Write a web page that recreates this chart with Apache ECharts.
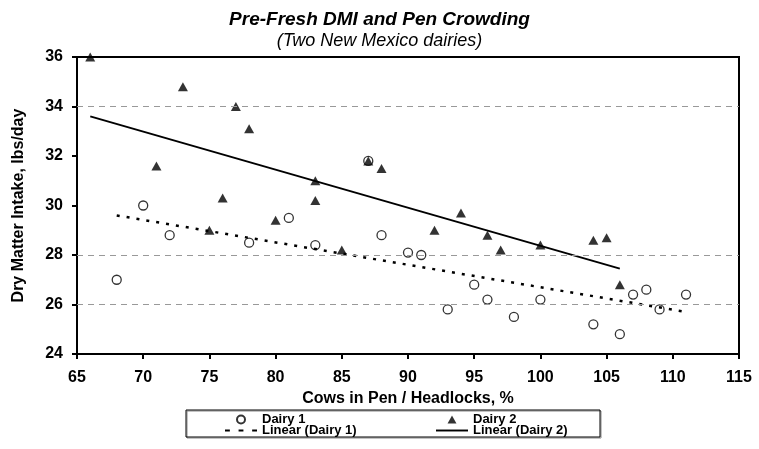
<!DOCTYPE html>
<html><head><meta charset="utf-8">
<script src="https://cdn.jsdelivr.net/npm/echarts@6/dist/echarts.min.js"></script>
<style>html,body{margin:0;padding:0;background:#fff}#c{width:759px;height:449px}</style>
</head><body><div id="c"></div>
<script>
// Dairy 1 (open circles): [cows in pen %, DMI]
const dairy1X = [68, 70, 72, 78, 81, 83, 87, 88, 90, 91, 93, 95, 96, 98, 100, 104, 106, 107, 108, 109, 111];
const dairy1Y = [27.0, 30.0, 28.8, 28.5, 29.5, 28.4, 31.8, 28.8, 28.1, 28.0, 25.8, 26.8, 26.2, 25.5, 26.2, 25.2, 24.8, 26.4, 26.6, 25.8, 26.4];
// Dairy 2 (filled triangles)
const dairy2X = [66, 71, 73, 75, 76, 77, 78, 80, 83, 83, 85, 87, 88, 92, 94, 96, 97, 100, 104, 105, 106];
const dairy2Y = [36.0, 31.6, 34.8, 29.0, 30.3, 34.0, 33.1, 29.4, 31.0, 30.2, 28.2, 31.8, 31.5, 29.0, 29.7, 28.8, 28.2, 28.4, 28.6, 28.7, 26.8];
// Trendline endpoints
const trend1X = [68, 111];
const trend1Y = [29.6, 25.7];
const trend2X = [66, 106];
const trend2Y = [33.6, 27.45];
const gridLevels = [26, 28, 34];

const zip = (a, b) => a.map((v, i) => [v, b[i]]);
const FONT = 'Liberation Sans, Arial, sans-serif';
const legendText = {fontFamily: FONT, fontSize: 13, fontWeight: 'bold', color: '#000', lineHeight: 10};
const ICON_DASH = 'path://M0,0h5v2h-5zM14,0h5v2h-5zM28,0h5v2h-5z';
const ICON_SOLID = 'path://M0,0h33v2h-33z';
const ICON_TRI = 'path://M5,0L10,9L0,9Z';
const nameStyle = {fontFamily: FONT, fontSize: 16, fontWeight: 'bold', color: '#000'};

const chart = echarts.init(document.getElementById('c'), null, {renderer: 'canvas'});
chart.setOption({
  animation: false,
  backgroundColor: '#fff',
  title: [
    {text: 'Pre-Fresh DMI and Pen Crowding', left: 'center', top: 5,
     textStyle: {fontFamily: FONT, fontSize: 19, fontWeight: 'bold', fontStyle: 'italic', color: '#000'}},
    {text: '(Two New Mexico dairies)', left: 'center', top: 27,
     textStyle: {fontFamily: FONT, fontSize: 18, fontWeight: 'normal', fontStyle: 'italic', color: '#000'}}
  ],
  grid: {left: 77, right: 20, top: 57, bottom: 95, show: true, borderColor: '#000', borderWidth: 2, containLabel: false},
  xAxis: {
    type: 'value', min: 65, max: 115, interval: 5,
    name: 'Cows in Pen / Headlocks, %', nameLocation: 'middle', nameGap: 35,
    nameTextStyle: nameStyle,
    axisLine: {show: true, lineStyle: {color: '#000', width: 2}},
    axisTick: {show: true, length: 5, lineStyle: {color: '#000', width: 2}},
    axisLabel: {fontFamily: FONT, fontSize: 16, fontWeight: 'bold', color: '#000', margin: 16},
    splitLine: {show: false}
  },
  yAxis: {
    type: 'value', min: 24, max: 36, interval: 2,
    name: 'Dry Matter Intake, lbs/day', nameLocation: 'middle', nameGap: 50,
    nameTextStyle: nameStyle,
    axisLine: {show: true, lineStyle: {color: '#000', width: 2}},
    axisTick: {show: true, length: 5, lineStyle: {color: '#000', width: 2}},
    axisLabel: {fontFamily: FONT, fontSize: 16, fontWeight: 'bold', color: '#000', margin: 14},
    splitLine: {show: false}
  },
  legend: [
    {orient: 'vertical', left: 225, top: 413, padding: 0, itemGap: -2, itemWidth: 32, itemHeight: 8,
     textStyle: legendText,
     data: [{name: 'Dairy 1', icon: 'circle'}, {name: 'Linear (Dairy 1)', icon: ICON_DASH}]},
    {orient: 'vertical', left: 436, top: 413, padding: 0, itemGap: -2, itemWidth: 32, itemHeight: 8,
     textStyle: legendText,
     data: [{name: 'Dairy 2', icon: ICON_TRI}, {name: 'Linear (Dairy 2)', icon: ICON_SOLID}]}
  ],
  graphic: [
    {type: 'rect', shape: {x: 186, y: 410, width: 414, height: 27},
     style: {fill: 'none', stroke: '#000', lineWidth: 1, shadowBlur: 0, shadowOffsetX: 1, shadowOffsetY: 1, shadowColor: '#888'}, z: -1}
  ],
  series: [
    {name: 'Gridlines', type: 'line', data: [], silent: true,
     markLine: {silent: true, symbol: 'none', label: {show: false},
       lineStyle: {color: '#999', type: [6, 5], width: 1},
       data: gridLevels.map(v => ({yAxis: v}))}},
    {name: 'Linear (Dairy 1)', type: 'line', data: zip(trend1X, trend1Y), symbol: 'none', z: 2,
     lineStyle: {color: '#000', width: 2.5, type: [3, 7]}, itemStyle: {color: '#000'}},
    {name: 'Linear (Dairy 2)', type: 'line', data: zip(trend2X, trend2Y), symbol: 'none', z: 2,
     lineStyle: {color: '#000', width: 2, type: 'solid'}, itemStyle: {color: '#000'}},
    {name: 'Dairy 2', type: 'scatter', data: zip(dairy2X, dairy2Y), symbol: 'triangle', symbolSize: [10, 9], z: 3,
     itemStyle: {color: '#000', borderWidth: 0}},
    {name: 'Dairy 1', type: 'scatter', data: zip(dairy1X, dairy1Y), symbol: 'circle', symbolSize: 9, z: 4,
     itemStyle: {color: 'rgba(255,255,255,0)', borderColor: '#000', borderWidth: 1.3}}
  ]
});
</script>
</body></html>
